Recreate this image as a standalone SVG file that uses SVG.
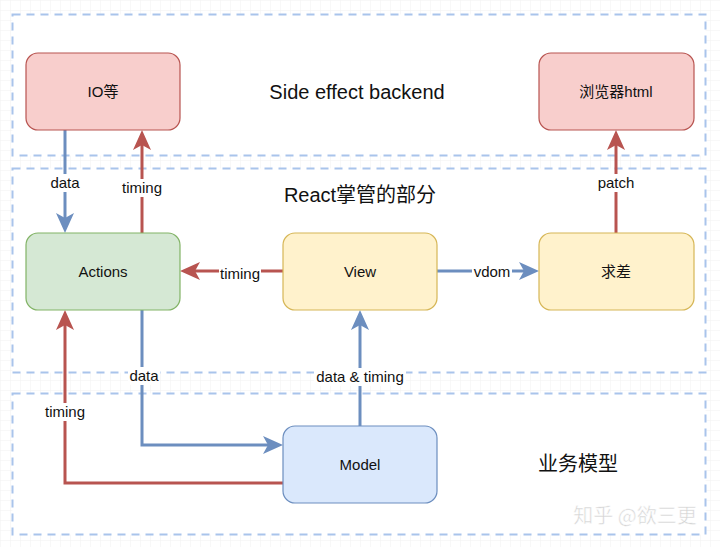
<svg xmlns="http://www.w3.org/2000/svg" width="720" height="547" viewBox="0 0 720 547">
<defs>
<pattern id="grid" width="10" height="10" patternUnits="userSpaceOnUse">
<path d="M10 0H0V10" fill="none" stroke="#f1f1f1" stroke-width="1"/>
</pattern>
<marker id="ab" markerUnits="userSpaceOnUse" markerWidth="22" markerHeight="20" refX="10" refY="9" orient="auto" viewBox="0 0 22 20">
<path d="M0 0L20 9L0 18L5 9Z" fill="#6c8ebf"/>
</marker>
<marker id="ar" markerUnits="userSpaceOnUse" markerWidth="22" markerHeight="20" refX="10" refY="9" orient="auto" viewBox="0 0 22 20">
<path d="M0 0L20 9L0 18L5 9Z" fill="#b85450"/>
</marker>
</defs>
<style>
.zone{fill:#ffffff;stroke:#a9c4eb;stroke-width:2;stroke-dasharray:8 6}
.node text,.lbl text{font-family:"Liberation Sans","Noto Sans CJK SC",sans-serif;font-size:15px;fill:#111;text-anchor:middle}
.title{font-family:"Liberation Sans","Noto Sans CJK SC",sans-serif;font-size:20px;fill:#111;text-anchor:middle}
.red{fill:#f8cecc;stroke:#b85450;stroke-width:1.2}
.green{fill:#d5e8d4;stroke:#82b366;stroke-width:1.2}
.yellow{fill:#fff2cc;stroke:#d6b656;stroke-width:1.2}
.blue{fill:#dae8fc;stroke:#6c8ebf;stroke-width:1.2}
.cb{fill:none;stroke:#6c8ebf;stroke-width:3;marker-end:url(#ab)}
.cr{fill:none;stroke:#b85450;stroke-width:3;marker-end:url(#ar)}
.lbl rect{fill:#ffffff}
</style>
<rect width="720" height="547" fill="#ffffff"/>
<rect width="720" height="547" fill="url(#grid)"/>
<g id="zones">
<rect class="zone" x="12.5" y="14.5" width="693" height="141"/>
<rect class="zone" x="12.5" y="168.5" width="693" height="204"/>
<rect class="zone" x="12.5" y="393.5" width="693" height="141"/>
</g>
<text class="title" x="357" y="99">Side effect backend</text>
<text class="title" x="360" y="202">React掌管的部分</text>
<text class="title" x="578" y="471">业务模型</text>
<text x="635" y="523" font-family="'Noto Sans CJK SC',sans-serif" font-size="20" fill="#d4d4d4" stroke="#ffffff" stroke-width="0.5" text-anchor="middle">知乎 @欲三更</text>
<g id="connectors">
<path class="cb" d="M65 130V223"/>
<path class="cr" d="M142 233V140"/>
<path class="cr" d="M616 233V140"/>
<path class="cr" d="M283 271H190"/>
<path class="cb" d="M437 271H529"/>
<path class="cb" d="M142 310V445H273"/>
<path class="cb" d="M360 426V320"/>
<path class="cr" d="M283 483H65V320"/>
</g>
<g class="lbl" id="labels">
<rect x="49" y="174" width="32" height="18"/><text x="65" y="188">data</text>
<rect x="120" y="179" width="44" height="18"/><text x="142" y="193">timing</text>
<rect x="597" y="174" width="38" height="18"/><text x="616" y="188">patch</text>
<rect x="219" y="263" width="42" height="18"/><text x="240" y="279">timing</text>
<rect x="472" y="263" width="40" height="17"/><text x="492" y="277">vdom</text>
<rect x="128" y="367" width="32" height="18"/><text x="144" y="381">data</text>
<rect x="314" y="368" width="92" height="18"/><text x="360" y="382">data &amp; timing</text>
<rect x="43" y="403" width="44" height="18"/><text x="65" y="417">timing</text>
</g>
<g class="node" id="io"><rect class="red" x="26" y="53" width="154" height="77" rx="12"/><text x="103" y="97">IO等</text></g>
<g class="node" id="browser"><rect class="red" x="539" y="53" width="155" height="77" rx="12"/><text x="616" y="97">浏览器html</text></g>
<g class="node" id="actions"><rect class="green" x="26" y="233" width="154" height="77" rx="12"/><text x="103" y="277">Actions</text></g>
<g class="node" id="view"><rect class="yellow" x="283" y="233" width="154" height="77" rx="12"/><text x="360" y="277">View</text></g>
<g class="node" id="diff"><rect class="yellow" x="539" y="233" width="155" height="77" rx="12"/><text x="616" y="277">求差</text></g>
<g class="node" id="model"><rect class="blue" x="283" y="426" width="154" height="77" rx="12"/><text x="360" y="470">Model</text></g>
</svg>
